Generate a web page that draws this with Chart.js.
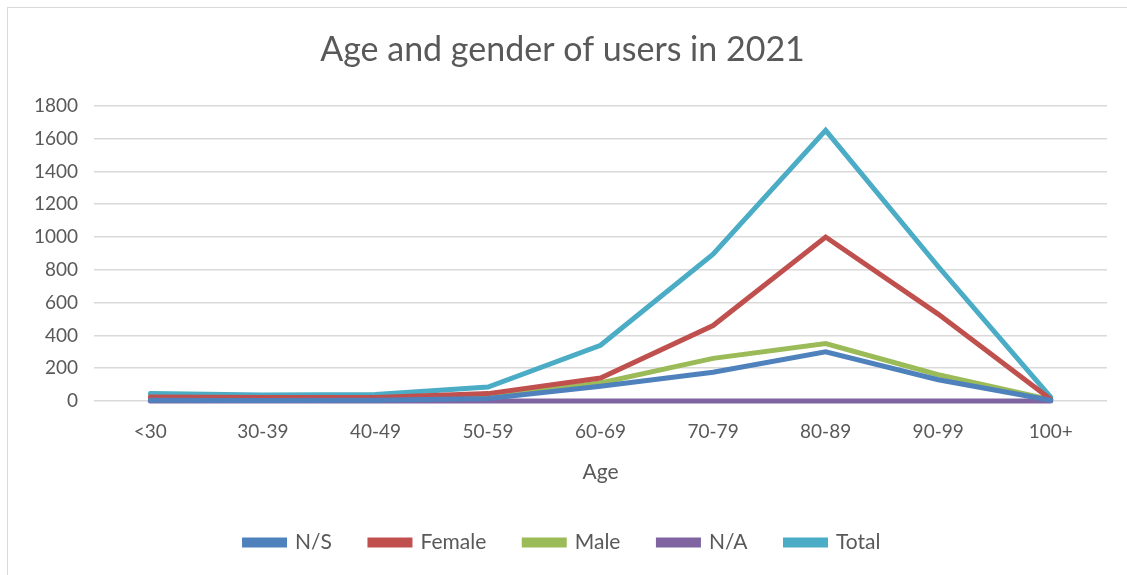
<!DOCTYPE html>
<html>
<head>
<meta charset="utf-8">
<script src="https://cdn.jsdelivr.net/npm/chart.js@4/dist/chart.umd.min.js"></script>
<style>
  html, body { margin: 0; padding: 0; background: #fff; }
  #wrap { position: absolute; left: 7px; top: 7px; width: 1125px; height: 572px; border: 1px solid #d9d9d9; box-sizing: border-box; }
  canvas { display: block; }
</style>
</head>
<body>
<div id="wrap"><canvas id="ageChart" width="1123" height="570"></canvas></div>
<script>
  // Age groups and users per group
  const ageGroups = ["<30", "30-39", "40-49", "50-59", "60-69", "70-79", "80-89", "90-99", "100+"];
  const notStated = [5, 3, 5, 15, 90, 175, 300, 130, 5];
  const female = [25, 22, 22, 45, 140, 460, 1000, 530, 10];
  const male = [15, 12, 13, 25, 110, 260, 350, 160, 8];
  const notApplicable = [0, 0, 0, 0, 0, 0, 0, 0, 0];
  const total = [45, 37, 40, 85, 340, 895, 1650, 820, 23];
  const yTicks = [0, 200, 400, 600, 800, 1000, 1200, 1400, 1600, 1800];

  const fontFamily = "Lato, 'Open Sans', sans-serif";
  const textColor = "#595959";

  function series(label, data, color) {
    return {
      label: label,
      data: data,
      borderColor: color,
      backgroundColor: color,
      borderWidth: 5,
      pointRadius: 0,
      tension: 0,
      fill: false,
      clip: 8,
      borderCapStyle: "round",
    };
  }

  const ctx = document.getElementById("ageChart").getContext("2d");
  const ageChart = new Chart(ctx, {
    type: "line",
    data: {
      labels: ageGroups,
      datasets: [
        series("N/S", notStated, "#4F81BD"),
        series("Female", female, "#C0504D"),
        series("Male", male, "#9BBB59"),
        series("N/A", notApplicable, "#8064A2"),
        series("Total", total, "#4BACC6"),
      ],
    },
    options: {
      responsive: false,
      animation: false,
      layout: { padding: { left: 10, right: 24, top: 0, bottom: 15 } },
      plugins: {
        title: {
          display: true,
          text: "Age and gender of users in 2021",
          color: textColor,
          font: { family: fontFamily, size: 34, weight: "normal" },
          padding: { top: 22, bottom: 35 },
        },
        legend: {
          position: "bottom",
          labels: {
            color: textColor,
            font: { family: fontFamily, size: 21 },
            boxWidth: 40,
            boxHeight: 5,
            padding: 38,
          },
        },
        tooltip: { enabled: false },
      },
      scales: {
        x: {
          offset: true,
          grid: { display: false },
          border: { display: false },
          ticks: { color: textColor, font: { family: fontFamily, size: 19 }, padding: 11 },
          title: {
            display: true,
            text: "Age",
            color: textColor,
            font: { family: fontFamily, size: 21 },
            padding: { top: 6, bottom: 9 },
          },
        },
        y: {
          min: 0,
          max: 1800,
          afterBuildTicks: (axis) => { axis.ticks = yTicks.map((v) => ({ value: v })); },
          grid: { color: "#d9d9d9", lineWidth: 1.5, drawTicks: false },
          border: { display: false },
          ticks: {
            color: textColor,
            font: { family: fontFamily, size: 19 },
            padding: 16,
            callback: (value) => String(value),
          },
        },
      },
    },
  });
</script>
</body>
</html>
